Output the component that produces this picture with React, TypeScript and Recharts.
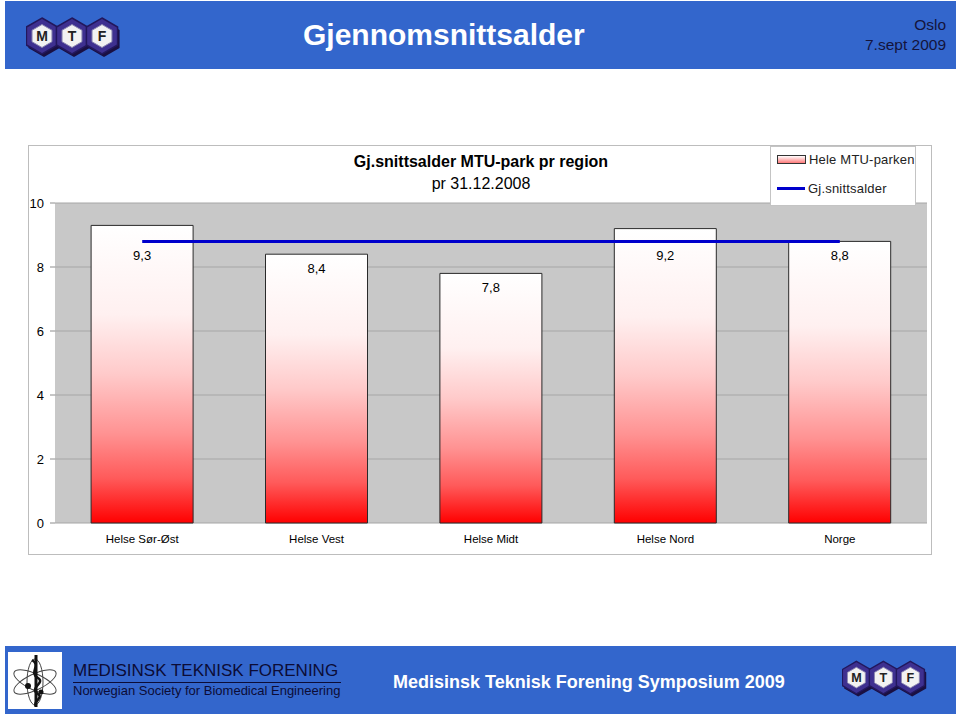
import { ComposedChart, Bar, Line, XAxis, YAxis, CartesianGrid, Legend, LabelList } from "recharts";

const regions = ["Helse Sør-Øst", "Helse Vest", "Helse Midt", "Helse Nord", "Norge"];
const parkAge = [9.3, 8.4, 7.8, 9.2, 8.8];
const avgAge = [8.8, 8.8, 8.8, 8.8, 8.8];
const yTicks = [0, 2, 4, 6, 8, 10];
const edgeTicks = [0, 1, 2, 3, 4, 5];

const data = regions.map((region, i) => ({ region, park: parkAge[i], avg: avgAge[i] }));

const FONT = "'Liberation Sans', Arial, sans-serif";
const BLUE = "#3366cc";

function hexPoints(cx: number, cy: number, r: number) {
  const pts: string[] = [];
  for (let k = 0; k < 6; k++) {
    const a = (Math.PI / 3) * k - Math.PI / 2;
    pts.push(`${cx + r * Math.cos(a)},${cy + r * Math.sin(a)}`);
  }
  return pts.join(" ");
}

function MtfLogo({ left, top, scale }: { left: number; top: number; scale: number }) {
  return (
    <svg
      style={{ position: "absolute", left, top }}
      width={94 * scale}
      height={52 * scale}
      viewBox="0 0 94 52"
    >
      {["M", "T", "F"].map((l, i) => {
        const cx = 16 + i * 30;
        const cy = 24;
        return (
          <g key={l}>
            <polygon points={hexPoints(cx + 2, cy + 3, 18)} fill="#1a1042" />
            <polygon points={hexPoints(cx, cy, 18)} fill="#3e3090" stroke="#22175c" strokeWidth={1.5} />
            <polygon points={hexPoints(cx, cy, 11.5)} fill="#f2f2f2" stroke="#8a86b0" strokeWidth={1} />
            <text
              x={cx}
              y={cy + 5}
              textAnchor="middle"
              fontSize={14}
              fontWeight="bold"
              fontFamily={FONT}
              fill="#222"
            >
              {l}
            </text>
          </g>
        );
      })}
    </svg>
  );
}

function SocietyLogo() {
  return (
    <svg style={{ position: "absolute", left: 8, top: 652 }} width={54} height={57} viewBox="0 0 54 57">
      <rect x={0} y={0} width={54} height={57} fill="#fff" />
      {[25, -25, 90].map((rot) => (
        <ellipse
          key={rot}
          cx={27}
          cy={30}
          rx={23}
          ry={8}
          fill="none"
          stroke="#444"
          strokeWidth={1}
          transform={`rotate(${rot} 27 30)`}
        />
      ))}
      <line x1={28} y1={3} x2={28} y2={55} stroke="#111" strokeWidth={3} />
      <path d="M24 8 C34 14 20 20 30 26 C38 31 20 36 30 42 C36 46 24 50 28 54" fill="none" stroke="#111" strokeWidth={2.5} />
      <circle cx={20} cy={34} r={3} fill="#111" />
      <circle cx={33} cy={40} r={2.5} fill="#111" />
    </svg>
  );
}

// value sits just under the bar top, or under the average line when the bar reaches above it
function ValueLabel(props: any) {
  const vb = props.viewBox || {};
  const x = vb.x ?? props.x;
  const y = vb.y ?? props.y;
  const width = vb.width ?? props.width;
  const height = vb.height ?? props.height;
  const value = Number(props.value);
  const bottom = y + height;
  const perUnit = height / value;
  const lineY = bottom - avgAge[props.index] * perUnit;
  const top = Math.max(y, lineY);
  return (
    <text
      x={x + width / 2}
      y={top + 14}
      textAnchor="middle"
      dominantBaseline="central"
      fontSize={13}
      fontFamily={FONT}
      fill="#000"
    >
      {String(value).replace(".", ",")}
    </text>
  );
}

function LegendBox({ payload }: any) {
  const items = [...(payload || [])].sort((a: any, b: any) => (a.type === "line" ? 1 : 0) - (b.type === "line" ? 1 : 0));
  return (
    <div
      style={{
        width: 146,
        height: 60,
        background: "#fff",
        border: "1px solid #c4c4c4",
        boxSizing: "border-box",
        paddingLeft: 6,
        fontFamily: FONT,
        whiteSpace: "nowrap",
      }}
    >
      <div style={{ marginTop: -2 }}>
        {items.map((entry: any) => (
          <div key={entry.value} style={{ display: "flex", alignItems: "center", height: 29 }}>
            {entry.type === "line" ? (
              <div style={{ width: 28, height: 3, background: entry.color, flex: "none" }} />
            ) : (
              <div
                style={{
                  width: 27,
                  height: 7,
                  flex: "none",
                  border: "1px solid #333",
                  background: "linear-gradient(#ffffff, #ff7a7a)",
                }}
              />
            )}
            <span style={{ marginLeft: 3, fontSize: 13, color: "#222", letterSpacing: 0.2 }}>{entry.value}</span>
          </div>
        ))}
      </div>
    </div>
  );
}

function AgeChart() {
  return (
    <div style={{ position: "absolute", left: 28, top: 145, width: 904, height: 410 }}>
      <div
        style={{
          position: "absolute",
          inset: 0,
          border: "1px solid #bdbdbd",
          boxSizing: "border-box",
        }}
      />
      <div
        style={{
          position: "absolute",
          left: 0,
          top: 6,
          width: 906,
          textAlign: "center",
          fontFamily: FONT,
          color: "#000",
          lineHeight: "22px",
          fontSize: 16,
        }}
      >
        <div style={{ fontWeight: "bold" }}>Gj.snittsalder MTU-park pr region</div>
        <div>pr 31.12.2008</div>
      </div>
      <ComposedChart
        width={904}
        height={410}
        data={data}
        margin={{ top: 58, right: 5, left: 0, bottom: 0 }}
        barCategoryGap="20.7%"
        style={{ fontFamily: FONT }}
      >
        <defs>
          <linearGradient id="parkFill" x1="0" y1="0" x2="0" y2="1">
            <stop offset="0" stopColor="#ffffff" />
            <stop offset="0.3" stopColor="#fff0f0" />
            <stop offset="0.5" stopColor="#ffcaca" />
            <stop offset="0.7" stopColor="#ff9292" />
            <stop offset="0.85" stopColor="#ff5a5a" />
            <stop offset="1" stopColor="#ff0000" />
          </linearGradient>
        </defs>
        <CartesianGrid vertical={false} stroke="#a6a6a6" fill="#c8c8c8" xAxisId="cat" />
        <XAxis
          xAxisId="edges"
          type="number"
          domain={[0, 5]}
          ticks={edgeTicks}
          allowDataOverflow
          height={0}
          tick={false}
          tickSize={4}
          stroke="#9a9a9a"
        />
        <XAxis
          xAxisId="cat"
          dataKey="region"
          height={32}
          axisLine={false}
          tickLine={false}
          tickSize={6}
          tickMargin={6}
          tick={{ fill: "#000", fontSize: 11.5, fontFamily: FONT }}
          interval={0}
        />
        <YAxis
          domain={[0, 10]}
          ticks={yTicks}
          width={27}
          axisLine={false}
          tickSize={5}
          tickMargin={6}
          tickLine={{ stroke: "#8c8c8c" }}
          tick={{ fill: "#000", fontSize: 13, fontFamily: FONT }}
        />
        <Legend
          layout="vertical"
          align="center"
          verticalAlign="middle"
          wrapperStyle={{ left: 742, top: 1, width: 146 }}
          content={<LegendBox />}
        />
        <Bar
          xAxisId="cat"
          dataKey="park"
          name="Hele MTU-parken"
          fill="url(#parkFill)"
          stroke="#2a2a2a"
          strokeWidth={1}
          isAnimationActive={false}
          legendType="rect"
        >
          <LabelList dataKey="park" content={(p: any) => <ValueLabel {...p} />} />
        </Bar>
        <Line
          xAxisId="cat"
          dataKey="avg"
          name="Gj.snittsalder"
          type="linear"
          stroke="#0000cc"
          strokeWidth={3}
          dot={false}
          activeDot={false}
          isAnimationActive={false}
          legendType="line"
        />
      </ComposedChart>
    </div>
  );
}

export default function App() {
  return (
    <div
      style={{
        position: "absolute",
        left: 0,
        top: 0,
        width: 960,
        height: 716,
        background: "#fff",
        overflow: "hidden",
        fontFamily: FONT,
      }}
    >
      <div style={{ position: "absolute", left: 5, top: 1, width: 951, height: 68, background: BLUE }} />
      <MtfLogo left={26} top={12} scale={1} />
      <div
        style={{
          position: "absolute",
          left: 303,
          top: 15,
          fontSize: 30,
          lineHeight: "40px",
          fontWeight: "bold",
          color: "#fff",
        }}
      >
        Gjennomsnittsalder
      </div>
      <div
        style={{
          position: "absolute",
          right: 14,
          top: 15,
          fontSize: 15.5,
          lineHeight: "20px",
          textAlign: "right",
          color: "#14143c",
        }}
      >
        <div>Oslo</div>
        <div>7.sept 2009</div>
      </div>

      <AgeChart />

      <div style={{ position: "absolute", left: 5, top: 646, width: 951, height: 68, background: BLUE }} />
      <SocietyLogo />
      <div
        style={{
          position: "absolute",
          left: 73,
          top: 661,
          fontSize: 17,
          lineHeight: "20px",
          color: "#0c0c36",
          whiteSpace: "nowrap",
        }}
      >
        MEDISINSK TEKNISK FORENING
      </div>
      <div style={{ position: "absolute", left: 73, top: 682, width: 268, height: 1, background: "#0c0c36" }} />
      <div
        style={{
          position: "absolute",
          left: 73,
          top: 683,
          fontSize: 13,
          lineHeight: "16px",
          color: "#0c0c36",
          whiteSpace: "nowrap",
        }}
      >
        Norwegian Society for Biomedical Engineering
      </div>
      <div
        style={{
          position: "absolute",
          left: 393,
          top: 670,
          fontSize: 18,
          lineHeight: "24px",
          fontWeight: "bold",
          color: "#fff",
          whiteSpace: "nowrap",
        }}
      >
        Medisinsk Teknisk Forening Symposium 2009
      </div>
      <MtfLogo left={842} top={656} scale={0.9} />
    </div>
  );
}
